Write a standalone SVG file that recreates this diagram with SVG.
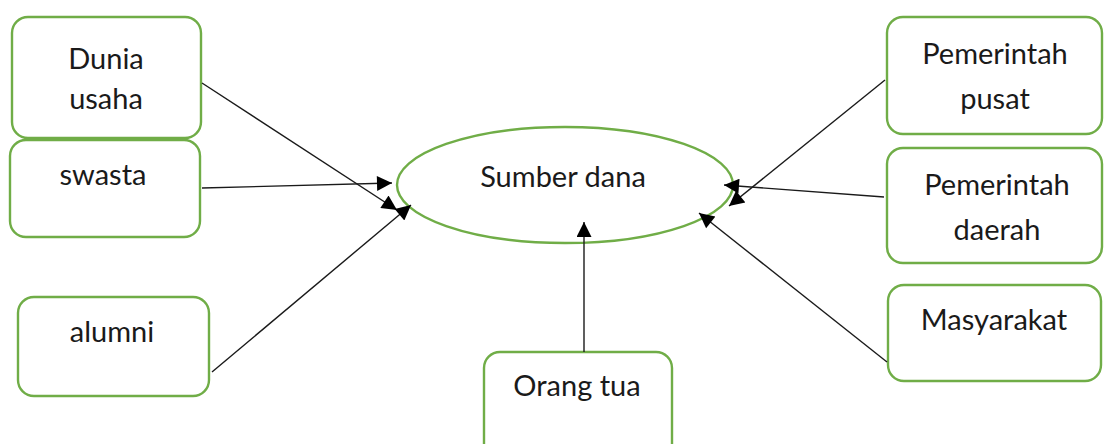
<svg xmlns="http://www.w3.org/2000/svg" width="1104" height="444" viewBox="0 0 1104 444">
  <style>
    .box { fill: #ffffff; stroke: #70AD47; stroke-width: 2.4; }
    .lbl { font-family: Lato, "Open Sans", "Liberation Sans", sans-serif; font-size: 29px; fill: #1a1a1a; text-anchor: middle; }
    .edge { stroke: #1a1a1a; stroke-width: 1.4; fill: none; marker-end: url(#head); }
  </style>
  <defs>
    <marker id="head" viewBox="0 0 10 10" refX="10" refY="5" markerWidth="17" markerHeight="15" markerUnits="userSpaceOnUse" orient="auto">
      <path d="M0,0 L10,5 L0,10 Z" fill="#000"/>
    </marker>
  </defs>
  <rect width="1104" height="444" fill="#ffffff"/>

  <g id="dunia-usaha">
    <rect class="box" x="12" y="17" width="189" height="121" rx="16"/>
    <text class="lbl" x="106" y="69">Dunia</text>
    <text class="lbl" x="106" y="109">usaha</text>
  </g>
  <g id="swasta">
    <rect class="box" x="10" y="140" width="190" height="97" rx="16"/>
    <text class="lbl" x="103" y="185">swasta</text>
  </g>
  <g id="alumni">
    <rect class="box" x="18" y="297" width="191" height="99" rx="16"/>
    <text class="lbl" x="112" y="342">alumni</text>
  </g>
  <g id="orang-tua">
    <rect class="box" x="484" y="352" width="188" height="110" rx="16"/>
    <text class="lbl" x="577" y="396">Orang tua</text>
  </g>
  <g id="pemerintah-pusat">
    <rect class="box" x="887" y="17" width="215" height="117" rx="16"/>
    <text class="lbl" x="995" y="64">Pemerintah</text>
    <text class="lbl" x="995" y="109">pusat</text>
  </g>
  <g id="pemerintah-daerah">
    <rect class="box" x="887" y="148" width="215" height="115" rx="16"/>
    <text class="lbl" x="997" y="195">Pemerintah</text>
    <text class="lbl" x="997" y="240">daerah</text>
  </g>
  <g id="masyarakat">
    <rect class="box" x="888" y="285" width="213" height="96" rx="16"/>
    <text class="lbl" x="994" y="330">Masyarakat</text>
  </g>
  <g id="sumber-dana">
    <ellipse class="box" cx="565" cy="185" rx="168" ry="58"/>
    <text class="lbl" x="563" y="187">Sumber dana</text>
  </g>

  <g id="connectors">
    <line class="edge" x1="202" y1="83" x2="397" y2="210"/>
    <line class="edge" x1="202" y1="188" x2="392" y2="183"/>
    <line class="edge" x1="212" y1="372" x2="411" y2="205"/>
    <line class="edge" x1="584" y1="352" x2="584" y2="222"/>
    <line class="edge" x1="885" y1="80" x2="729" y2="206"/>
    <line class="edge" x1="884" y1="197" x2="724" y2="185"/>
    <line class="edge" x1="887" y1="362" x2="699" y2="213"/>
  </g>
</svg>
